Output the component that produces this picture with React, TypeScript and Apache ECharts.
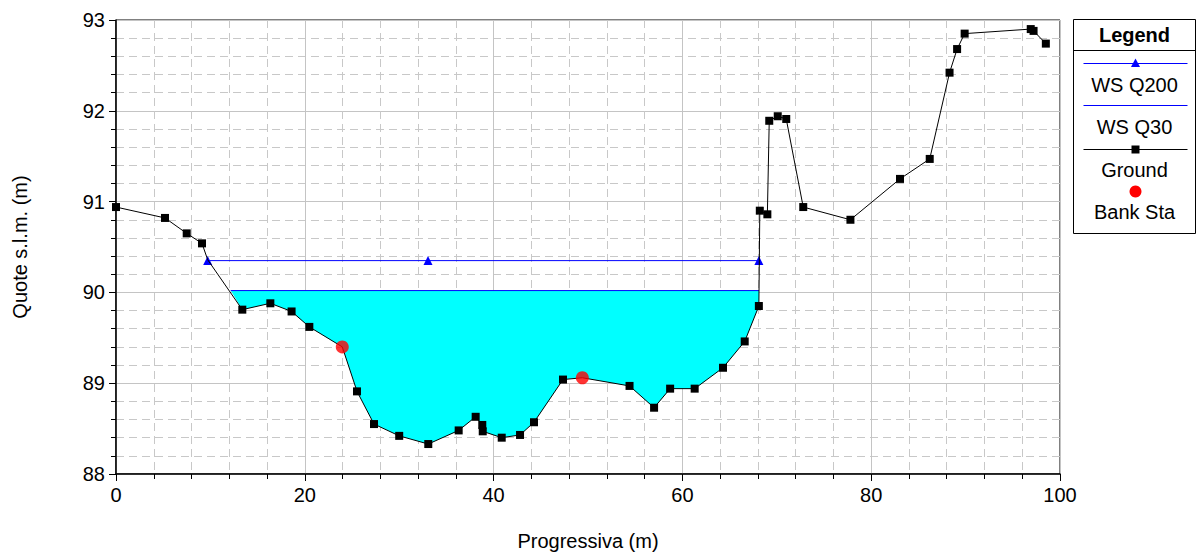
import React, { useEffect, useRef } from "react";
import * as echarts from "echarts";

// Surveyed ground points (Progressiva m, Quota m)
const groundX = [0, 5.19, 7.49, 9.11, 13.38, 16.35, 18.6, 20.48, 25.53, 27.33, 30.0, 33.08, 36.3, 38.1, 38.8, 38.85, 40.86, 42.8, 44.28, 47.35, 54.4, 57.0, 58.7, 61.3, 64.3, 66.6, 68.1, 68.2, 69.0, 69.2, 70.1, 71.0, 72.8, 77.8, 83.05, 86.2, 88.3, 89.1, 89.9, 96.9, 97.2, 98.5];
const groundY = [90.94, 90.82, 90.65, 90.54, 89.81, 89.88, 89.79, 89.62, 88.91, 88.55, 88.42, 88.33, 88.48, 88.63, 88.54, 88.47, 88.4, 88.43, 88.57, 89.04, 88.97, 88.73, 88.94, 88.94, 89.17, 89.46, 89.85, 90.9, 90.86, 91.89, 91.94, 91.91, 90.94, 90.8, 91.25, 91.47, 92.42, 92.68, 92.85, 92.9, 92.88, 92.74];
// Unmarked ground vertices (under WS Q200 marker)
const extraX = [9.71];
const extraY = [90.36];
// Bank stations
const bankX = [23.97, 49.4];
const bankY = [89.4, 89.06];
// Water surfaces
const wsQ200 = 90.35;
const wsQ200X = [9.71, 33.05, 68.1];
const wsQ30 = 90.02;
const wsQ30X = [12.15, 68.12];
// Axis ticks
const xTicks = [0, 20, 40, 60, 80, 100];
const yTicks = [88, 89, 90, 91, 92, 93];

const FONT = "Arial, 'Liberation Sans', sans-serif";
const FS = 20;

export default function App() {
  const ref = useRef<HTMLDivElement>(null);
  useEffect(() => {
    document.body.style.margin = "0";
    const chart = echarts.init(ref.current!, null, { renderer: "svg" });

    type V = { x: number; y: number; mark: boolean };
    const verts: V[] = [];
    groundX.forEach((x, i) => verts.push({ x, y: groundY[i], mark: true }));
    extraX.forEach((x, i) => verts.push({ x, y: extraY[i], mark: false }));
    bankX.forEach((x, i) => verts.push({ x, y: bankY[i], mark: false }));
    verts.sort((a, b) => a.x - b.x);

    const groundData = verts.map((v) => ({
      value: [v.x, v.y],
      symbol: v.mark ? "rect" : "none",
    }));

    const waterPts: number[][] = [[wsQ30X[0], wsQ30]];
    verts
      .filter((v) => v.x > wsQ30X[0] && v.x < wsQ30X[1])
      .forEach((v) => waterPts.push([v.x, Math.min(v.y, wsQ30)]));
    waterPts.push([wsQ30X[1], wsQ30]);

    const axisLabel = { fontFamily: FONT, fontSize: FS, color: "#000" };
    const txt = (text: string, y: number, bold = false) => ({
      type: "text",
      x: 61,
      y,
      style: {
        text,
        font: `${bold ? "bold " : ""}${FS}px ${FONT}`,
        fill: "#000",
        textAlign: "center",
        textVerticalAlign: "middle",
      },
    });

    chart.setOption({
      animation: false,
      grid: {
        left: 116,
        right: 137,
        top: 20,
        bottom: 83,
        show: true,
        borderColor: "#000",
        borderWidth: 1,
        backgroundColor: "#fff",
      },
      xAxis: {
        type: "value",
        min: xTicks[0],
        max: xTicks[xTicks.length - 1],
        interval: 20,
        name: "Progressiva (m)",
        nameLocation: "middle",
        nameGap: 57,
        nameTextStyle: { fontFamily: FONT, fontSize: FS, color: "#000" },
        axisLine: { onZero: false, lineStyle: { color: "#000", width: 1.5 } },
        axisTick: { show: true, length: 7, lineStyle: { color: "#000" } },
        minorTick: { show: true, splitNumber: 5, length: 5, lineStyle: { color: "#000" } },
        axisLabel: { ...axisLabel, margin: 11 },
        splitLine: { show: true, lineStyle: { color: "#c4c4c4", width: 1 } },
        minorSplitLine: { show: true, lineStyle: { color: "#c8c8c8", width: 1, type: [8, 5] } },
      },
      yAxis: {
        type: "value",
        min: yTicks[0],
        max: yTicks[yTicks.length - 1],
        interval: 1,
        name: "Quote s.l.m. (m)",
        nameLocation: "middle",
        nameGap: 86,
        nameTextStyle: { fontFamily: FONT, fontSize: FS, color: "#000" },
        axisLine: { onZero: false, lineStyle: { color: "#000", width: 1.5 } },
        axisTick: { show: true, length: 7, lineStyle: { color: "#000" } },
        minorTick: { show: true, splitNumber: 5, length: 5, lineStyle: { color: "#000" } },
        axisLabel: { ...axisLabel, margin: 11 },
        splitLine: { show: true, lineStyle: { color: "#c4c4c4", width: 1 } },
        minorSplitLine: { show: true, lineStyle: { color: "#c8c8c8", width: 1, type: [8, 5] } },
      },
      series: [
        {
          type: "custom",
          name: "water",
          z: 1,
          clip: true,
          data: [[wsQ30X[0], wsQ30]],
          renderItem: (_params: any, api: any) => ({
            type: "polygon",
            shape: { points: waterPts.map((p) => api.coord(p)) },
            style: { fill: "#00ffff", stroke: "none" },
          }),
        },
        {
          type: "line",
          name: "WS Q30",
          z: 3,
          data: wsQ30X.map((x) => [x, wsQ30]),
          symbol: "none",
          lineStyle: { color: "#0000ff", width: 1 },
        },
        {
          type: "line",
          name: "WS Q200",
          z: 3,
          data: wsQ200X.map((x) => [x, wsQ200]),
          symbol: "triangle",
          symbolSize: 9,
          itemStyle: { color: "#0000ff" },
          lineStyle: { color: "#0000ff", width: 1 },
        },
        {
          type: "line",
          name: "Ground",
          z: 4,
          data: groundData,
          symbolSize: 8,
          showAllSymbol: true,
          itemStyle: { color: "#000" },
          lineStyle: { color: "#000", width: 1 },
        },
        {
          type: "scatter",
          name: "Bank Sta",
          z: 5,
          data: bankX.map((x, i) => [x, bankY[i]]),
          symbol: "circle",
          symbolSize: 13,
          itemStyle: { color: "#ff0000" },
        },
      ],
      graphic: [
        {
          type: "group",
          left: 1071,
          top: 19,
          children: [
            { type: "rect", shape: { x: 0, y: 0, width: 122, height: 214 }, style: { fill: "#fff", stroke: "#000", lineWidth: 1 } },
            { type: "line", shape: { x1: 0, y1: 31, x2: 122, y2: 31 }, style: { stroke: "#000", lineWidth: 1 } },
            txt("Legend", 15, true),
            { type: "line", shape: { x1: 10, y1: 44, x2: 114, y2: 44 }, style: { stroke: "#0000ff", lineWidth: 1 } },
            { type: "polygon", shape: { points: [[62, 39], [57.5, 47.5], [66.5, 47.5]] }, style: { fill: "#0000ff" } },
            txt("WS Q200", 65),
            { type: "line", shape: { x1: 10, y1: 86, x2: 114, y2: 86 }, style: { stroke: "#0000ff", lineWidth: 1 } },
            txt("WS Q30", 107),
            { type: "line", shape: { x1: 10, y1: 130, x2: 114, y2: 130 }, style: { stroke: "#000", lineWidth: 1 } },
            { type: "rect", shape: { x: 58, y: 126, width: 8, height: 8 }, style: { fill: "#000" } },
            txt("Ground", 150),
            { type: "circle", shape: { cx: 62, cy: 172, r: 6 }, style: { fill: "#ff0000" } },
            txt("Bank Sta", 192),
          ],
        },
      ],
    });
    return () => chart.dispose();
  }, []);
  return <div ref={ref} style={{ width: 1197, height: 557 }} />;
}
